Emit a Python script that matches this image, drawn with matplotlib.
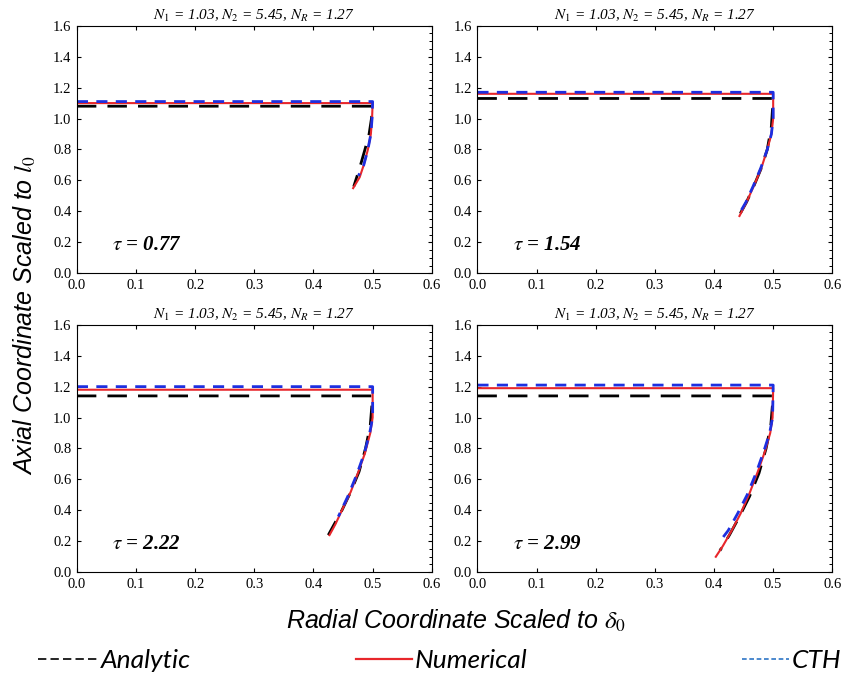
import numpy as np
import matplotlib.pyplot as plt
from matplotlib.lines import Line2D
from matplotlib.ticker import MultipleLocator

plt.rcParams['mathtext.fontset'] = 'stix'

# panel labels
taus = ['0.77', '1.54', '2.22', '2.99']
title = r'$N_1$ = 1.03, $N_2$ = 5.45, $N_R$ = 1.27'

# analytic profiles (r, z)
ana_r = [
    [0.0, 0.5, 0.5, 0.498, 0.494, 0.487, 0.478, 0.468],
    [0.0, 0.5, 0.5, 0.497, 0.49, 0.48, 0.468, 0.455, 0.442],
    [0.0, 0.5, 0.5, 0.496, 0.488, 0.477, 0.463, 0.448, 0.435, 0.425],
    [0.0, 0.5, 0.5, 0.496, 0.488, 0.476, 0.46, 0.443, 0.426, 0.41],
]
ana_z = [
    [1.08, 1.08, 1.08, 1.0, 0.9, 0.8, 0.68, 0.56],
    [1.13, 1.13, 1.13, 0.95, 0.8, 0.68, 0.57, 0.46, 0.37],
    [1.14, 1.14, 1.14, 0.95, 0.8, 0.65, 0.52, 0.4, 0.31, 0.24],
    [1.14, 1.14, 1.14, 0.95, 0.8, 0.64, 0.49, 0.36, 0.24, 0.14],
]

# numerical profiles
num_r = [
    [0.0, 0.5, 0.499, 0.497, 0.492, 0.485, 0.478, 0.467],
    [0.0, 0.5, 0.5, 0.497, 0.49, 0.48, 0.468, 0.455, 0.443],
    [0.0, 0.5, 0.5, 0.496, 0.487, 0.476, 0.463, 0.448, 0.437, 0.427],
    [0.0, 0.5, 0.499, 0.495, 0.486, 0.474, 0.46, 0.445, 0.43, 0.415, 0.403],
]
num_z = [
    [1.10, 1.10, 1.0, 0.9, 0.8, 0.7, 0.62, 0.55],
    [1.16, 1.16, 1.0, 0.9, 0.8, 0.68, 0.57, 0.46, 0.37],
    [1.18, 1.18, 1.0, 0.9, 0.77, 0.65, 0.52, 0.4, 0.31, 0.24],
    [1.19, 1.19, 1.0, 0.9, 0.78, 0.65, 0.51, 0.38, 0.27, 0.17, 0.10],
]

# CTH profiles
cth_r = [
    [0.0, 0.5, 0.499, 0.497, 0.492, 0.485, 0.476],
    [0.0, 0.5, 0.5, 0.497, 0.49, 0.479, 0.467, 0.454, 0.442],
    [0.0, 0.5, 0.5, 0.495, 0.486, 0.473, 0.458, 0.442],
    [0.0, 0.5, 0.499, 0.494, 0.484, 0.471, 0.456, 0.44, 0.424, 0.408],
]
cth_z = [
    [1.11, 1.11, 1.0, 0.9, 0.8, 0.7, 0.63],
    [1.17, 1.17, 1.0, 0.9, 0.8, 0.68, 0.57, 0.46, 0.38],
    [1.20, 1.20, 1.0, 0.9, 0.77, 0.63, 0.49, 0.36],
    [1.21, 1.21, 1.0, 0.9, 0.78, 0.64, 0.5, 0.38, 0.27, 0.19],
]

fig = plt.figure(figsize=(8.45, 6.78), dpi=100)
lefts = [0.091, 0.565, 0.091, 0.565]
bottoms = [0.597, 0.597, 0.156, 0.156]
w, h = 0.42, 0.365

serif = 'Liberation Serif'
for i in range(4):
    ax = fig.add_axes([lefts[i], bottoms[i], w, h])
    ax.plot(ana_r[i], ana_z[i], color='black', lw=2, dashes=(7, 4))
    ax.plot(num_r[i], num_z[i], color='#e8262b', lw=1.5)
    ax.plot(cth_r[i], cth_z[i], color='#1d2fe0', lw=2, dashes=(4, 3))
    ax.set_xlim(0, 0.6)
    ax.set_ylim(0, 1.6)
    ax.xaxis.set_major_locator(MultipleLocator(0.1))
    ax.yaxis.set_major_locator(MultipleLocator(0.2))
    ax.yaxis.set_minor_locator(MultipleLocator(0.05))
    ax.set_xticklabels([f'{v:.1f}' for v in ax.get_xticks()])
    ax.set_yticklabels([f'{v:.1f}' for v in ax.get_yticks()])
    ax.tick_params(which='major', direction='in', length=3, width=0.8,
                   top=True, right=True, labelsize=10.5, pad=4)
    ax.tick_params(which='minor', direction='in', length=2, width=0.7,
                   left=False, right=True)
    for lab in ax.get_xticklabels() + ax.get_yticklabels():
        lab.set_family(serif)
    ax.set_title(title, fontsize=11, family=serif, style='italic', pad=4)
    ax.text(0.06, 0.15, r'$\tau$ = ' + taus[i], fontsize=15, family=serif,
            style='italic', weight='bold')

fig.text(0.03, 0.535, r'Axial Coordinate Scaled to $l_0$', rotation=90,
         ha='center', va='center', fontsize=18, family='Liberation Sans',
         style='italic')
fig.text(0.54, 0.085, r'Radial Coordinate Scaled to $\delta_0$',
         ha='center', va='center', fontsize=18, family='Liberation Sans',
         style='italic')

# legend entries placed like the reference: left, middle, right
leg_labels = ['Analytic', 'Numerical', 'CTH']
leg_handles = [
    Line2D([], [], color='black', lw=1.2, dashes=(5, 2.5)),
    Line2D([], [], color='#e8262b', lw=1.6),
    Line2D([], [], color='#2e75c6', lw=1.2, dashes=(2.8, 1.6)),
]
leg_x = [0.045, 0.421, 0.878]
leg_len = [2.3, 2.15, 1.8]
for hnd, lab, x0, hl in zip(leg_handles, leg_labels, leg_x, leg_len):
    lg = fig.legend([hnd], [lab], loc='center left', bbox_to_anchor=(x0, 0.026),
                    frameon=False, handlelength=hl, handletextpad=0.1,
                    borderpad=0, borderaxespad=0,
                    prop={'family': 'Lato', 'style': 'italic', 'size': 19})

fig.savefig('out.png', dpi=100)
